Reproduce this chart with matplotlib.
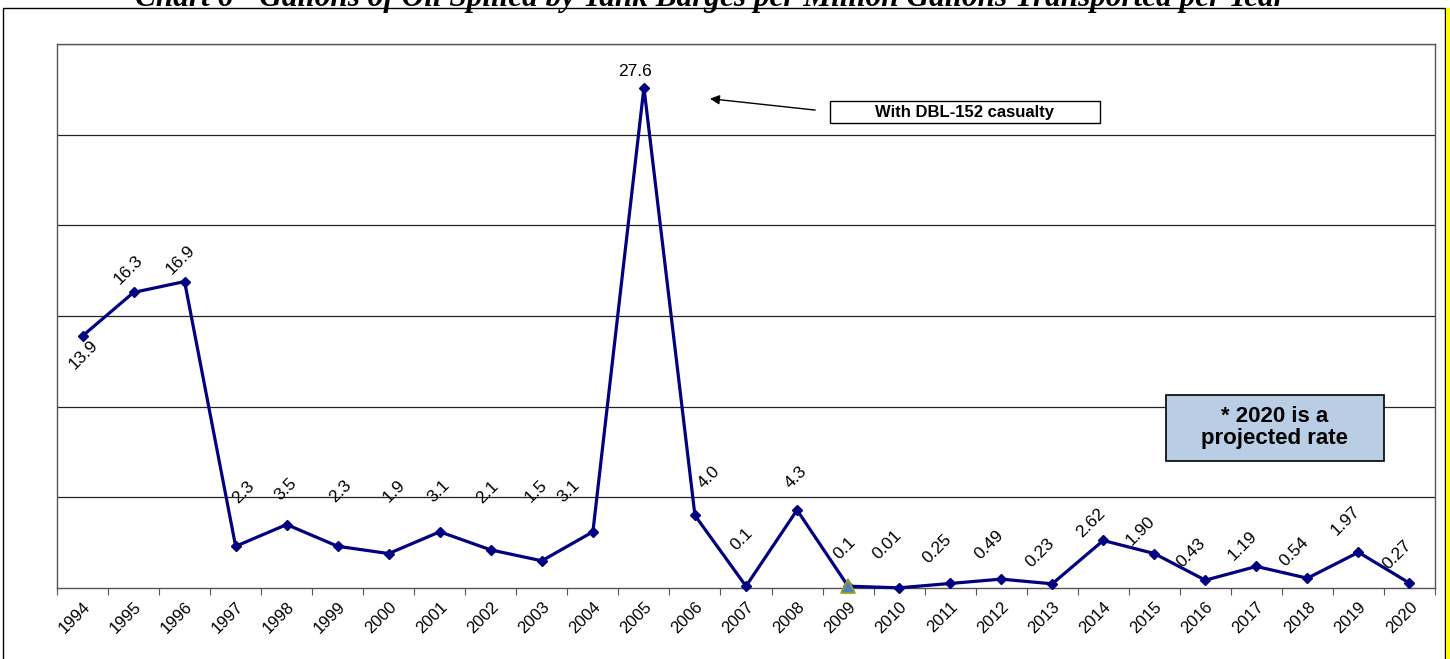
import matplotlib.pyplot as plt
from matplotlib.patches import Rectangle

years = [str(y) for y in range(1994, 2021)]
rates = [13.9, 16.3, 16.9, 2.3, 3.5, 2.3, 1.9, 3.1, 2.1, 1.5, 3.1, 27.6, 4.0, 0.1,
         4.3, 0.1, 0.01, 0.25, 0.49, 0.23, 2.62, 1.90, 0.43, 1.19, 0.54, 1.97, 0.27]
rate_labels = ["13.9", "16.3", "16.9", "2.3", "3.5", "2.3", "1.9", "3.1", "2.1", "1.5",
               "3.1", "27.6", "4.0", "0.1", "4.3", "0.1", "0.01", "0.25", "0.49", "0.23",
               "2.62", "1.90", "0.43", "1.19", "0.54", "1.97", "0.27"]

# label offsets in pixels (dx, dy up) - placed by hand in the original
label_offsets = [(1, -19), (-5, 23), (-4, 22), (8, 54), (-1, 35), (3, 55), (5, 62),
                 (-1, 41), (-3, 58), (-6, 70), (-24, 41), (-9, 16), (14, 38), (-4, 47),
                 (-1, 33), (-3, 38), (-12, 43), (-13, 35), (-12, 34), (-12, 31),
                 (-12, 18), (-14, 23), (-14, 27), (-14, 21), (-13, 26), (-13, 31), (-12, 28)]

title = "Chart 6 - Gallons of Oil Spilled by Tank Barges per Million Gallons Transported per Year"

plt.rcParams['font.family'] = ['Liberation Sans', 'DejaVu Sans']

fig = plt.figure(figsize=(14.5, 6.59), dpi=100)
ax = fig.add_axes([57 / 1450, 1 - 588 / 659, (1435 - 57) / 1450, (588 - 44) / 659])

# outer frame + yellow strip at the right edge
fig.patches.append(Rectangle((3 / 1450, -0.01), 1442 / 1450, 1 - 8 / 659 + 0.01,
                             transform=fig.transFigure, fill=False,
                             edgecolor="black", linewidth=1.0))
fig.patches.append(Rectangle((1446 / 1450, -0.01), 4 / 1450, 1 - 8 / 659 + 0.01,
                             transform=fig.transFigure, facecolor="#ffff00",
                             edgecolor="none"))

# title is cropped at the top in the original page
fig.text(710 / 1450, 1 - 6 / 659, title, ha="center", va="baseline",
         family="Liberation Serif", style="italic", weight="bold", fontsize=22.5)

x = list(range(len(years)))
ax.plot(x, rates, color="#000080", linewidth=2.3, marker="D", markersize=5,
        markerfacecolor="#000080", markeredgecolor="#000080", zorder=3, clip_on=False)
# 2009 point uses a different marker in the original
i09 = years.index("2009")
ax.plot([x[i09]], [rates[i09]], marker="^", markersize=10, markerfacecolor="#4f81bd",
        markeredgecolor="#9b9b2b", markeredgewidth=1.3, linestyle="none", zorder=4,
        clip_on=False)

for i, (lab, (dx, dy)) in enumerate(zip(rate_labels, label_offsets)):
    rot = 0 if lab == "27.6" else 45
    ax.annotate(lab, (x[i], rates[i]), xytext=(dx, dy), textcoords="offset pixels",
                ha="center", va="center", rotation=rot, fontsize=12.5, color="black")

ax.set_xlim(-0.5, len(years) - 0.5)
ax.set_ylim(0, 30)
ax.set_yticks([5, 10, 15, 20, 25, 30])
ax.yaxis.grid(True, color="#222222", linewidth=0.9)
ax.tick_params(axis="y", length=0, labelleft=False)

ax.set_xticks([i - 0.5 for i in x] + [len(years) - 0.5])
ax.set_xticklabels([])
ax.set_xticks(x, minor=True)
ax.set_xticklabels(years, minor=True, rotation=45, ha="right", rotation_mode="anchor",
                   fontsize=12)
ax.tick_params(axis="x", which="major", length=5, color="#555555", direction="out")
ax.tick_params(axis="x", which="minor", length=0, pad=8)

for side in ["top", "right", "left", "bottom"]:
    ax.spines[side].set_color("#555555")
    ax.spines[side].set_linewidth(1.0)

# annotation for the 2005 spike
ax.annotate("", xy=(12.24, 27.0), xytext=(14.41, 26.34),
            arrowprops=dict(arrowstyle="-|>", color="black", lw=1.0, mutation_scale=14))
ax.add_patch(Rectangle((14.64, 25.67), 5.29, 1.16, facecolor="white",
                       edgecolor="black", linewidth=1.0, zorder=5))
ax.text(17.29, 26.2, "With DBL-152 casualty", ha="center", va="center", fontsize=12,
        weight="bold", zorder=6)

ax.add_patch(Rectangle((21.22, 7.0), 4.29, 3.64, facecolor="#b9cde5",
                       edgecolor="black", linewidth=1.2, zorder=5))
ax.text(23.36, 8.85, "* 2020 is a\nprojected rate", ha="center", va="center",
        fontsize=16, weight="bold", linespacing=1.05, zorder=6)

fig.savefig("out.png", dpi=100)
